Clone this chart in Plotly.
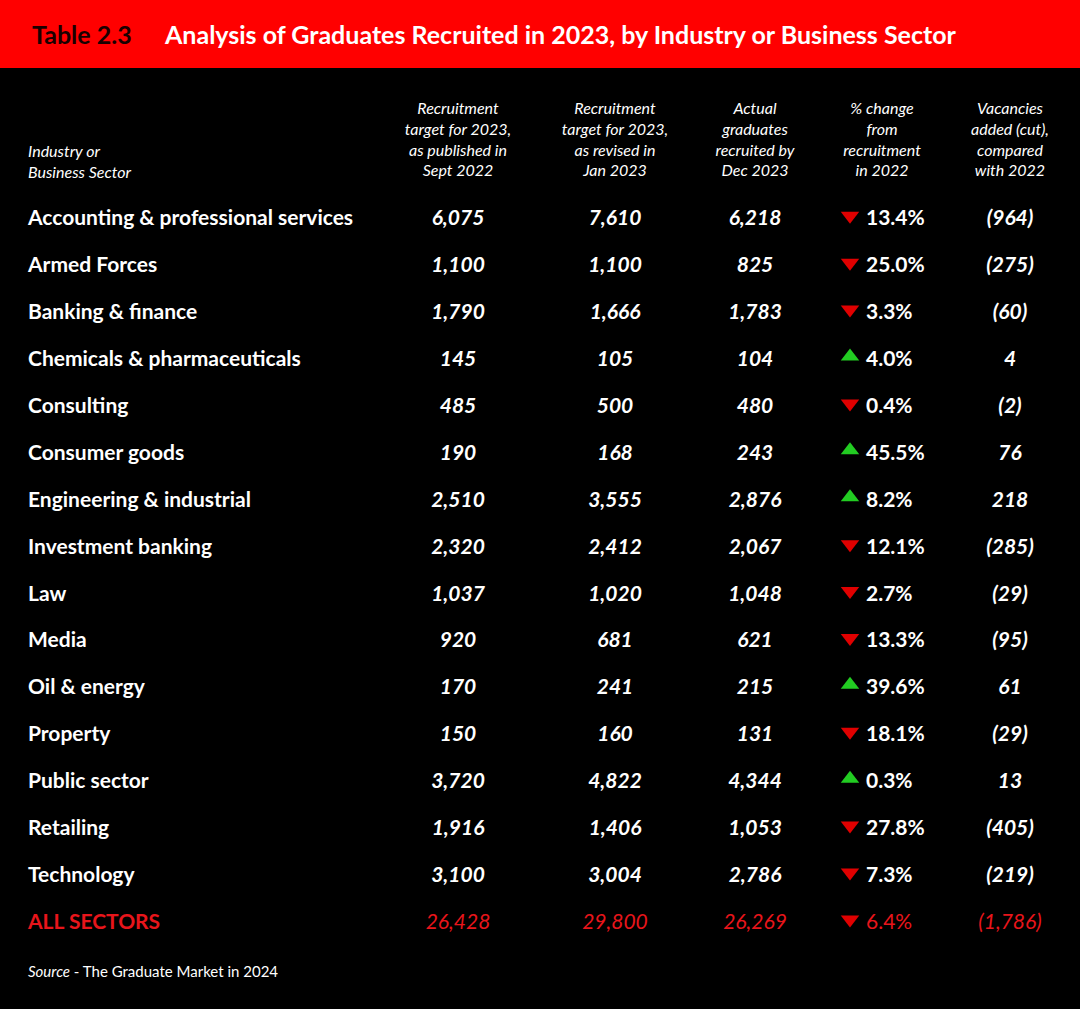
import plotly.graph_objects as go

sectors = ["Accounting & professional services","Armed Forces","Banking & finance","Chemicals & pharmaceuticals",
           "Consulting","Consumer goods","Engineering & industrial","Investment banking","Law","Media",
           "Oil & energy","Property","Public sector","Retailing","Technology"]
target_sept = ["6,075","1,100","1,790","145","485","190","2,510","2,320","1,037","920","170","150","3,720","1,916","3,100"]
target_jan = ["7,610","1,100","1,666","105","500","168","3,555","2,412","1,020","681","241","160","4,822","1,406","3,004"]
actual = ["6,218","825","1,783","104","480","243","2,876","2,067","1,048","621","215","131","4,344","1,053","2,786"]
pct = ["13.4%","25.0%","3.3%","4.0%","0.4%","45.5%","8.2%","12.1%","2.7%","13.3%","39.6%","18.1%","0.3%","27.8%","7.3%"]
direction = ["down","down","down","up","down","up","up","down","down","down","up","down","up","down","down"]
vacancies = ["(964)","(275)","(60)","4","(2)","76","218","(285)","(29)","(95)","61","(29)","13","(405)","(219)"]
total = {"label":"ALL SECTORS","sept":"26,428","jan":"29,800","actual":"26,269","pct":"6.4%","dir":"down","vac":"(1,786)"}
headers = ["Recruitment<br>target for 2023,<br>as published in<br>Sept 2022",
           "Recruitment<br>target for 2023,<br>as revised in<br>Jan 2023",
           "Actual<br>graduates<br>recruited by<br>Dec 2023",
           "% change<br>from<br>recruitment<br>in 2022",
           "Vacancies<br>added (cut),<br>compared<br>with 2022"]

FONT = "Lato"
RED = "#e8151b"
rows = list(range(len(sectors)))
fig = go.Figure()

def txt(x, y, t, color="white", size=21, anchor="middle center", family=FONT):
    fig.add_trace(go.Scatter(x=x, y=y, text=t, mode="text", textposition=anchor,
                             textfont=dict(color=color, size=size, family=family), hoverinfo="skip"))

bi = lambda l: ["<b><i>%s</i></b>" % s for s in l]
b = lambda l: ["<b>%s</b>" % s for s in l]
n = len(rows)
txt([28]*n, rows, b(sectors), anchor="middle right")
txt([458]*n, rows, bi(target_sept))
txt([615]*n, rows, bi(target_jan))
txt([755]*n, rows, bi(actual))
txt([866]*n, rows, b(pct), anchor="middle right")
txt([1010]*n, rows, bi(vacancies))
tr = n
txt([28], [tr], ["<b>"+total["label"]+"</b>"], color=RED, anchor="middle right")
txt([458], [tr], ["<i>"+total["sept"]+"</i>"], color=RED)
txt([615], [tr], ["<i>"+total["jan"]+"</i>"], color=RED)
txt([755], [tr], ["<i>"+total["actual"]+"</i>"], color=RED)
txt([866], [tr], [total["pct"]], color=RED, anchor="middle right")
txt([1010], [tr], ["<i>"+total["vac"]+"</i>"], color=RED)

dirs = direction + [total["dir"]]
fig.add_trace(go.Scatter(x=[850]*(n+1), y=[r - 0.09 for r in rows+[tr]], mode="markers", hoverinfo="skip",
    marker=dict(symbol=["triangle-down" if d=="down" else "triangle-up" for d in dirs],
                color=["#e00000" if d=="down" else "#22cc22" for d in dirs], size=16, line=dict(width=0))))

hx = [458, 615, 755, 882, 1010]
txt(hx, [-1.68]*5, ["<i>%s</i>" % h for h in headers], size=16)
txt([28], [-1.2], ["<i>Industry or<br>Business Sector</i>"], size=16, anchor="middle right")
txt([28], [16.05], ["<i>Source</i> - The Graduate Market in 2024"], size=15, anchor="middle right")

fig.add_shape(type="rect", xref="paper", yref="paper", x0=0, x1=1, y0=1-68/1009, y1=1,
              fillcolor="#ff0000", line_width=0, layer="below")
fig.add_annotation(xref="paper", yref="paper", x=30/1080, y=1-34/1009, xanchor="left", yanchor="middle",
                   text="<b>Table 2.3</b>", showarrow=False, font=dict(color="#1a0000", size=25, family=FONT))
fig.add_annotation(xref="paper", yref="paper", x=162/1080, y=1-34/1009, xanchor="left", yanchor="middle",
                   text="<b>Analysis of Graduates Recruited in 2023, by Industry or Business Sector</b>",
                   showarrow=False, font=dict(color="white", size=25, family=FONT))

fig.update_layout(width=1080, height=1009, margin=dict(l=0, r=0, t=0, b=0),
                  paper_bgcolor="black", plot_bgcolor="black", showlegend=False,
                  xaxis=dict(range=[0, 1080], visible=False, fixedrange=True),
                  yaxis=dict(range=[16.82, -4.69], visible=False, fixedrange=True))
fig.write_html("out.html", config={"displayModeBar": False})
with open("out.html", encoding="utf-8") as f:
    html = f.read()
html = html.replace("<head>", "<head><style>html,body{margin:0;padding:0;background:black;overflow:hidden;}</style>", 1)
with open("out.html", "w", encoding="utf-8") as f:
    f.write(html)
